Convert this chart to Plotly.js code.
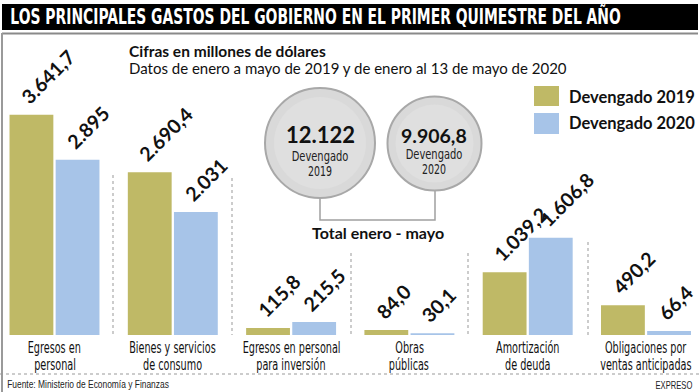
<!DOCTYPE html>
<html>
<head>
<meta charset="utf-8">
<script src="https://cdn.plot.ly/plotly-3.0.1.min.js"></script>
<style>html,body{margin:0;padding:0;background:#fff;}#chart{width:700px;height:392px;}</style>
</head>
<body>
<div id="chart"></div>
<script>
// ---- data ----
const categories = ["Egresos en<br>personal", "Bienes y servicios<br>de consumo", "Egresos en personal<br>para inversión", "Obras<br>públicas", "Amortización<br>de deuda", "Obligaciones por<br>ventas anticipadas"];
const values2019 = [3641.7, 2690.4, 115.8, 84.0, 1039.2, 490.2];
const values2020 = [2895, 2031, 215.5, 30.1, 1606.8, 66.4];
const labels2019 = ["3.641,7", "2.690,4", "115,8", "84,0", "1.039,2", "490,2"];
const labels2020 = ["2.895", "2.031", "215,5", "30,1", "1.606,8", "66,4"];
const seriesNames = ["Devengado 2019", "Devengado 2020"];
const totals = ["12.122", "9.906,8"];
const totalYears = ["2019", "2020"];

// ---- styling ----
const W = 700, PB = 335;
const OLIVE = "#BFB966", BLUE = "#A7C4E8";
const COND = "DejaVu Sans Condensed, DejaVu Sans, sans-serif";
const ARIAL = "Liberation Sans, Arial, sans-serif";
const HUM = "Lato, Open Sans, sans-serif";
const px = x => x / W;
const py = y => (PB - y) / PB;
const xs = categories.map((_, i) => i);
const half = 0.1923;

const traces = [
  {type: "bar", x: xs, y: values2019, name: seriesNames[0], marker: {color: OLIVE}, hoverinfo: "none"},
  {type: "bar", x: xs, y: values2020, name: seriesNames[1], marker: {color: BLUE}, hoverinfo: "none"}
];

const ann = [];
const squeeze = {};   // text content -> {w: target width px | group, origin}
function txt(x, y, text, font, xa, ya, sq) {
  if (sq) squeeze[text.replace(/<[^>]+>/g, "")] = sq;
  ann.push({xref: "paper", yref: "paper", x: px(x), y: py(y), text: text, showarrow: false,
    xanchor: xa || "center", yanchor: ya || "middle", font: font});
}
// value labels
[[values2019, labels2019, -half], [values2020, labels2020, half]].forEach(([vals, labs, off]) => {
  vals.forEach((v, i) => {
    ann.push({x: i + off, y: v, xref: "x", yref: "y", text: "<b>" + labs[i] + "</b>", showarrow: false,
      textangle: -45, xanchor: "left", yanchor: "bottom", xshift: -18, yshift: 4,
      font: {family: HUM, size: 19.5, color: "#111"}});
  });
});
// category labels (one annotation per line, centred on the category)
categories.forEach((c, i) => {
  c.split("<br>").forEach((ln, k) => {
    squeeze[ln] = {group: "cat", origin: "center"};
    ann.push({x: i, xref: "x", yref: "paper", y: py(348 + 17 * k), text: ln, showarrow: false,
      xanchor: "center", yanchor: "middle", font: {family: COND, size: 15.5, color: "#111"}});
  });
});
txt(8, 17, "<b>LOS PRINCIPALES GASTOS DEL GOBIERNO EN EL PRIMER QUIMESTRE DEL AÑO</b>", {family: COND, size: 20.5, color: "#fff"}, "left", "middle", {w: 611, origin: "left center"});
txt(127, 51, "<b>Cifras en millones de dólares</b>", {family: HUM, size: 15.5, color: "#111"}, "left");
txt(127, 68, "Datos de enero a mayo de 2019 y de enero al 13 de mayo de 2020", {family: HUM, size: 15, color: "#111"}, "left");
txt(567, 97, "<b>" + seriesNames[0] + "</b>", {family: HUM, size: 16.5, color: "#111"}, "left");
txt(567, 123, "<b>" + seriesNames[1] + "</b>", {family: HUM, size: 16.5, color: "#111"}, "left");
txt(320, 134, "<b>" + totals[0] + "</b>", {family: HUM, size: 22, color: "#111"});
txt(320, 156, "Devengado", {family: COND, size: 14, color: "#222"}, "center", "middle", {w: 57, origin: "center"});
txt(320, 171, totalYears[0], {family: COND, size: 14, color: "#222"}, "center", "middle", {w: 24, origin: "center"});
txt(434.5, 135, "<b>" + totals[1] + "</b>", {family: HUM, size: 19.5, color: "#111"});
txt(434.5, 154, "Devengado", {family: COND, size: 14, color: "#222"}, "center", "middle", {w: 57, origin: "center"});
txt(434.5, 169, totalYears[1], {family: COND, size: 14, color: "#222"}, "center", "middle", {w: 24, origin: "center"});
txt(378, 232, "<b>Total enero - mayo</b>", {family: HUM, size: 16, color: "#111"});
txt(5, 384, "Fuente: Ministerio de Economía y Finanzas", {family: ARIAL, size: 10.5, color: "#222"}, "left", "middle", {w: 162, origin: "left center"});
txt(695, 386, "EXPRESO", {family: ARIAL, size: 10, color: "#222"}, "right", "middle", {w: 37, origin: "right center"});

const shapes = [];
function rect(x0, y0, x1, y1, fill) {
  shapes.push({type: "rect", xref: "paper", yref: "paper", x0: px(x0), x1: px(x1), y0: py(y1), y1: py(y0),
    fillcolor: fill, line: {width: 0}});
}
function line(x0, y0, x1, y1, color, width, dash) {
  shapes.push({type: "line", xref: "paper", yref: "paper", x0: px(x0), x1: px(x1), y0: py(y0), y1: py(y1),
    line: {color: color, width: width, dash: dash || "solid"}});
}
function circ(cx, cy, r, fill, lc, lw) {
  shapes.push({type: "circle", xref: "paper", yref: "paper", x0: px(cx - r), x1: px(cx + r), y0: py(cy + r), y1: py(cy - r),
    fillcolor: fill, line: {color: lc, width: lw}});
}
rect(2, 4, 698, 30, "#000");
line(2, 33.5, 698, 33.5, "#8a8a8a", 2);
line(2, 33, 2, 392, "#9a9a9a", 2);
rect(534, 86, 559, 106, OLIVE);
rect(534, 113, 559, 134, BLUE);
// connector
shapes.push({type: "path", xref: "paper", yref: "paper",
  path: `M ${px(320)} ${py(198)} L ${px(320)} ${py(220)} L ${px(435)} ${py(220)} L ${px(435)} ${py(190)}`,
  line: {color: "#a0a0a0", width: 1.5}});
circ(320, 143, 55, "#d9d9d9", "#a8a8a8", 2);
circ(320, 143, 46, "#dfdfdf", "rgba(0,0,0,0)", 0);
circ(434.5, 143.5, 47, "#d9d9d9", "#a8a8a8", 2);
circ(434.5, 143.5, 39, "#dfdfdf", "rgba(0,0,0,0)", 0);
// separators
line(113, 175, 113, 335, "#999", 1, "dot");
line(232, 178, 232, 335, "#999", 1, "dot");
line(351, 253, 351, 335, "#999", 1, "dot");
line(468, 253, 468, 335, "#999", 1, "dot");
line(588, 242, 588, 335, "#999", 1, "dot");
line(0, 374, 700, 374, "#999", 1, "dot");

const layout = {
  width: 700, height: 392,
  margin: {l: 0, r: 0, t: 0, b: 57, pad: 0},
  paper_bgcolor: "#fff", plot_bgcolor: "rgba(0,0,0,0)",
  showlegend: false,
  barmode: "group", bargap: 0.22, bargroupgap: 0.05,
  xaxis: {range: [-0.4607, 5.4565], tickvals: xs, showticklabels: false, showgrid: false, zeroline: false,
    showline: false, ticks: "", fixedrange: true},
  yaxis: {range: [0, 335 / 0.0605], visible: false, fixedrange: true},
  shapes: shapes,
  annotations: ann
};
Plotly.newPlot("chart", traces, layout, {staticPlot: true, displayModeBar: false}).then(() => {
  const texts = Array.from(document.querySelectorAll("#chart g.annotation text.annotation-text"));
  let catScale = 1;
  texts.forEach(t => { if (t.textContent === "Egresos en personal") catScale = 98 / t.getBBox().width; });
  texts.forEach(t => {
    const s = squeeze[t.textContent];
    if (!s) return;
    const k = s.group === "cat" ? catScale : s.w / t.getBBox().width;
    t.style.transformBox = "fill-box";
    t.style.transformOrigin = s.origin;
    t.style.transform = "scaleX(" + k + ")";
  });
});
</script>
</body>
</html>
